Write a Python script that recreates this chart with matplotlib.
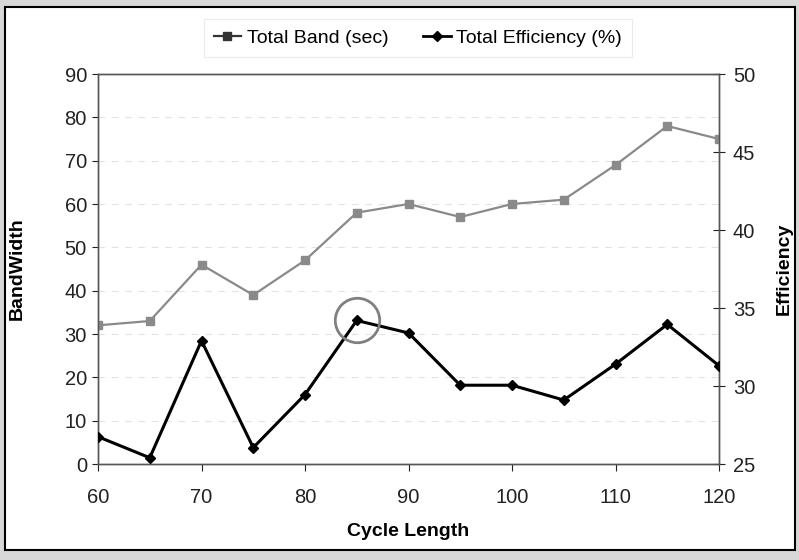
import numpy as np
import matplotlib
matplotlib.use('Agg')
import matplotlib.pyplot as plt
from matplotlib.lines import Line2D
from matplotlib.patches import Rectangle

plt.rcParams['font.family'] = ['Liberation Sans', 'DejaVu Sans']

# data
cycle = [60, 65, 70, 75, 80, 85, 90, 95, 100, 105, 110, 115, 120]
band = [32, 33, 46, 39, 47, 58, 60, 57, 60, 61, 69, 78, 75]
eff = [26.75, 25.4, 32.9, 26.05, 29.45, 34.2, 33.4, 30.05, 30.05, 29.1, 31.4, 33.95, 31.3]
x_ticks = [60, 70, 80, 90, 100, 110, 120]
left_ticks = [0, 10, 20, 30, 40, 50, 60, 70, 80, 90]
right_ticks = [25, 30, 35, 40, 45, 50]

fig = plt.figure(figsize=(7.99, 5.6), dpi=100)
fig.patch.set_facecolor('#d8d8d8')

# white chart frame like the excel chart area
bg = fig.add_axes([0, 0, 1, 1], zorder=-10)
bg.axis('off')
bg.set_xlim(0, 799)
bg.set_ylim(560, 0)
bg.add_patch(Rectangle((5, 7), 790, 543, facecolor='white', edgecolor='black', linewidth=1.5))

ax = fig.add_axes([98/799, 1-464/560, 621/799, 390/560])
ax.set_facecolor('none')
ax2 = ax.twinx()

for y in left_ticks[1:-1]:
    ax.axhline(y, color='#e2e2e2', lw=0.8, ls=(0, (6, 6)), zorder=0)

ax.plot(cycle, band, color='#8a8a8a', lw=1.6, marker='s', ms=6, mfc='#8a8a8a', mec='#8a8a8a', zorder=3)
ax2.plot(cycle, eff, color='black', lw=2.2, marker='D', ms=5, mfc='black', mec='black', zorder=3)
# highlight circle around the best efficiency point
ax2.plot([cycle[5]], [eff[5]], marker='o', ms=32, mfc='none', mec='#808080', mew=2, zorder=4)

ax.set_xlim(60, 120)
ax.set_ylim(0, 90)
ax2.set_ylim(25, 50)
ax.set_xticks(x_ticks)
ax.set_yticks(left_ticks)
ax2.set_yticks(right_ticks)

ax.tick_params(axis='x', labelsize=14.5, direction='out', length=5, pad=12, colors='#222222')
ax.tick_params(axis='y', labelsize=14.5, direction='out', length=4, pad=4, colors='#222222')
ax2.tick_params(axis='y', labelsize=14.5, direction='inout', length=8, pad=6, colors='#222222')

for a in (ax, ax2):
    for s in a.spines.values():
        s.set_color('#555555')
        s.set_linewidth(1.0)

ax.set_xlabel('Cycle Length', fontsize=14, fontweight='bold', labelpad=12)
ax.set_ylabel('BandWidth', fontsize=14, fontweight='bold', labelpad=28)
ax2.set_ylabel('Efficiency', fontsize=14, fontweight='bold', labelpad=15)

handles = [Line2D([], [], color='#333333', lw=1.6, marker='s', ms=6),
           Line2D([], [], color='black', lw=2.0, marker='D', ms=5)]
leg = fig.legend(handles, ['Total Band (sec)', 'Total Efficiency (%)'], loc='center',
                 bbox_to_anchor=(418/799, 1-38/560), ncol=2, fontsize=14, frameon=True,
                 handlelength=1.4, handletextpad=0.3, columnspacing=1.8, borderpad=0.5)
leg.get_frame().set_edgecolor('#e6e6e6')
leg.get_frame().set_linewidth(0.8)
leg.get_frame().set_boxstyle('square', pad=0)

fig.savefig('out.png', dpi=100)
